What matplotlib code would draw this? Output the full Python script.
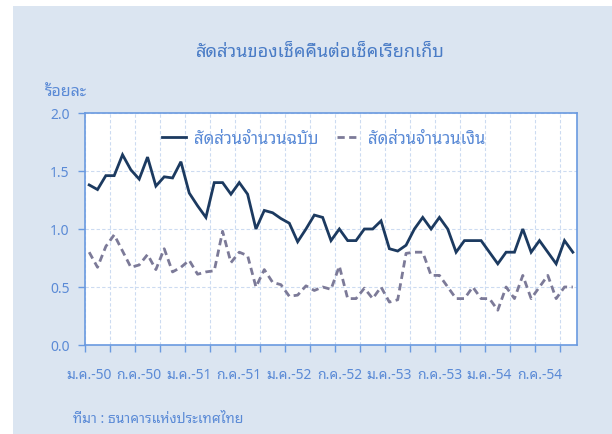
import matplotlib
matplotlib.use("Agg")
import matplotlib.pyplot as plt
from matplotlib.patches import Rectangle
import numpy as np

plt.rcParams['font.family'] = ['Noto Sans Thai Looped', 'DejaVu Sans']

title = "สัดส่วนของเช็คคืนต่อเช็คเรียกเก็บ"
ylabel = "ร้อยละ"
source = "ที่มา : ธนาคารแห่งประเทศไทย"
series_names = ["สัดส่วนจำนวนฉบับ", "สัดส่วนจำนวนเงิน"]
x_labels = ["ม.ค.-50", "ก.ค.-50", "ม.ค.-51", "ก.ค.-51", "ม.ค.-52",
            "ก.ค.-52", "ม.ค.-53", "ก.ค.-53", "ม.ค.-54", "ก.ค.-54"]

count_ratio = [1.38, 1.34, 1.46, 1.46, 1.64, 1.51, 1.43, 1.62, 1.37, 1.45,
               1.44, 1.58, 1.31, 1.20, 1.10, 1.40, 1.40, 1.30, 1.40, 1.30,
               1.00, 1.16, 1.14, 1.09, 1.05, 0.89, 1.00, 1.12, 1.10, 0.90,
               1.00, 0.90, 0.90, 1.00, 1.00, 1.07, 0.83, 0.81, 0.86, 1.00,
               1.10, 1.00, 1.10, 1.00, 0.80, 0.90, 0.90, 0.90, 0.80, 0.70,
               0.80, 0.80, 1.00, 0.80, 0.90, 0.80, 0.70, 0.90, 0.80]
amount_ratio = [0.80, 0.67, 0.85, 0.95, 0.81, 0.67, 0.69, 0.78, 0.65, 0.83,
                0.63, 0.67, 0.73, 0.61, 0.63, 0.64, 0.98, 0.71, 0.80, 0.77,
                0.50, 0.65, 0.54, 0.52, 0.42, 0.43, 0.51, 0.47, 0.50, 0.48,
                0.68, 0.40, 0.40, 0.49, 0.40, 0.50, 0.37, 0.39, 0.79, 0.80,
                0.80, 0.60, 0.60, 0.50, 0.40, 0.40, 0.50, 0.40, 0.40, 0.30,
                0.50, 0.40, 0.60, 0.40, 0.50, 0.60, 0.40, 0.50, 0.50]

TXT = '#5A8AD6'
TITLE = '#4A7CC6'
SPINE = '#6A9AE0'
GRID = '#CCDBF1'
BG = '#DBE5F1'

W, H = 612, 435
fig = plt.figure(figsize=(W/100, H/100), dpi=100)
fig.patch.set_facecolor('white')
fig.add_artist(Rectangle((13/W, 0), 1 - 13/W, (H - 7)/H, transform=fig.transFigure,
                         facecolor=BG, edgecolor='none', zorder=0))

ax = fig.add_axes([85/W, (H-346)/H, (577-85)/W, (346-114)/H])
ax.set_facecolor('white')

n = len(count_ratio)
x = np.arange(n)
ax.plot(x, count_ratio, color='#1C3A60', lw=2.0, solid_joinstyle='miter',
        label=series_names[0], zorder=3)
ax.plot(x, amount_ratio, color='#7C7A98', lw=2.0, dashes=(2.6, 1.6),
        label=series_names[1], zorder=3)

ax.set_xlim(-0.5, n - 0.5)
ax.set_ylim(0, 2.0)
ax.set_yticks([0, 0.5, 1.0, 1.5, 2.0])
ax.set_yticklabels(['0.0', '0.5', '1.0', '1.5', '2.0'])

ax.set_xticks(np.arange(-0.5, n - 1, 3))
ax.set_xticklabels([])
ax.set_xticks(np.arange(0, n, 6), minor=True)
ax.set_xticklabels(x_labels, minor=True)
ax.tick_params(axis='x', which='major', length=5, width=1, color=SPINE, direction='out')
ax.tick_params(axis='x', which='minor', length=0, pad=16, labelsize=10, labelcolor=TXT)
ax.tick_params(axis='y', length=5, width=1, color=SPINE, labelsize=10, labelcolor=TXT, pad=6)

ax.grid(True, which='major', axis='both', color=GRID, lw=0.8, ls=(0, (3, 2)))
ax.set_axisbelow(True)
for s in ax.spines.values():
    s.set_color(SPINE)
    s.set_linewidth(1.2)

leg = fig.legend(handles=ax.get_lines(), loc='center', bbox_to_anchor=(324/W, 1 - 140/H),
                 ncol=2, frameon=False, fontsize=12, handlelength=1.4,
                 columnspacing=1.1, handletextpad=0.5)
for t in leg.get_texts():
    t.set_color(TXT)

fig.text(320/W, 1 - 52/H, title, ha='center', va='center', fontsize=13,
         fontweight='semibold', color=TITLE)
fig.text(45/W, 1 - 93/H, ylabel, ha='left', va='center', fontsize=11.5,
         fontweight='medium', color=TXT)
fig.text(73/W, 1 - 420/H, source, ha='left', va='center', fontsize=10, color=TXT)

fig.savefig("out.png", dpi=100)
